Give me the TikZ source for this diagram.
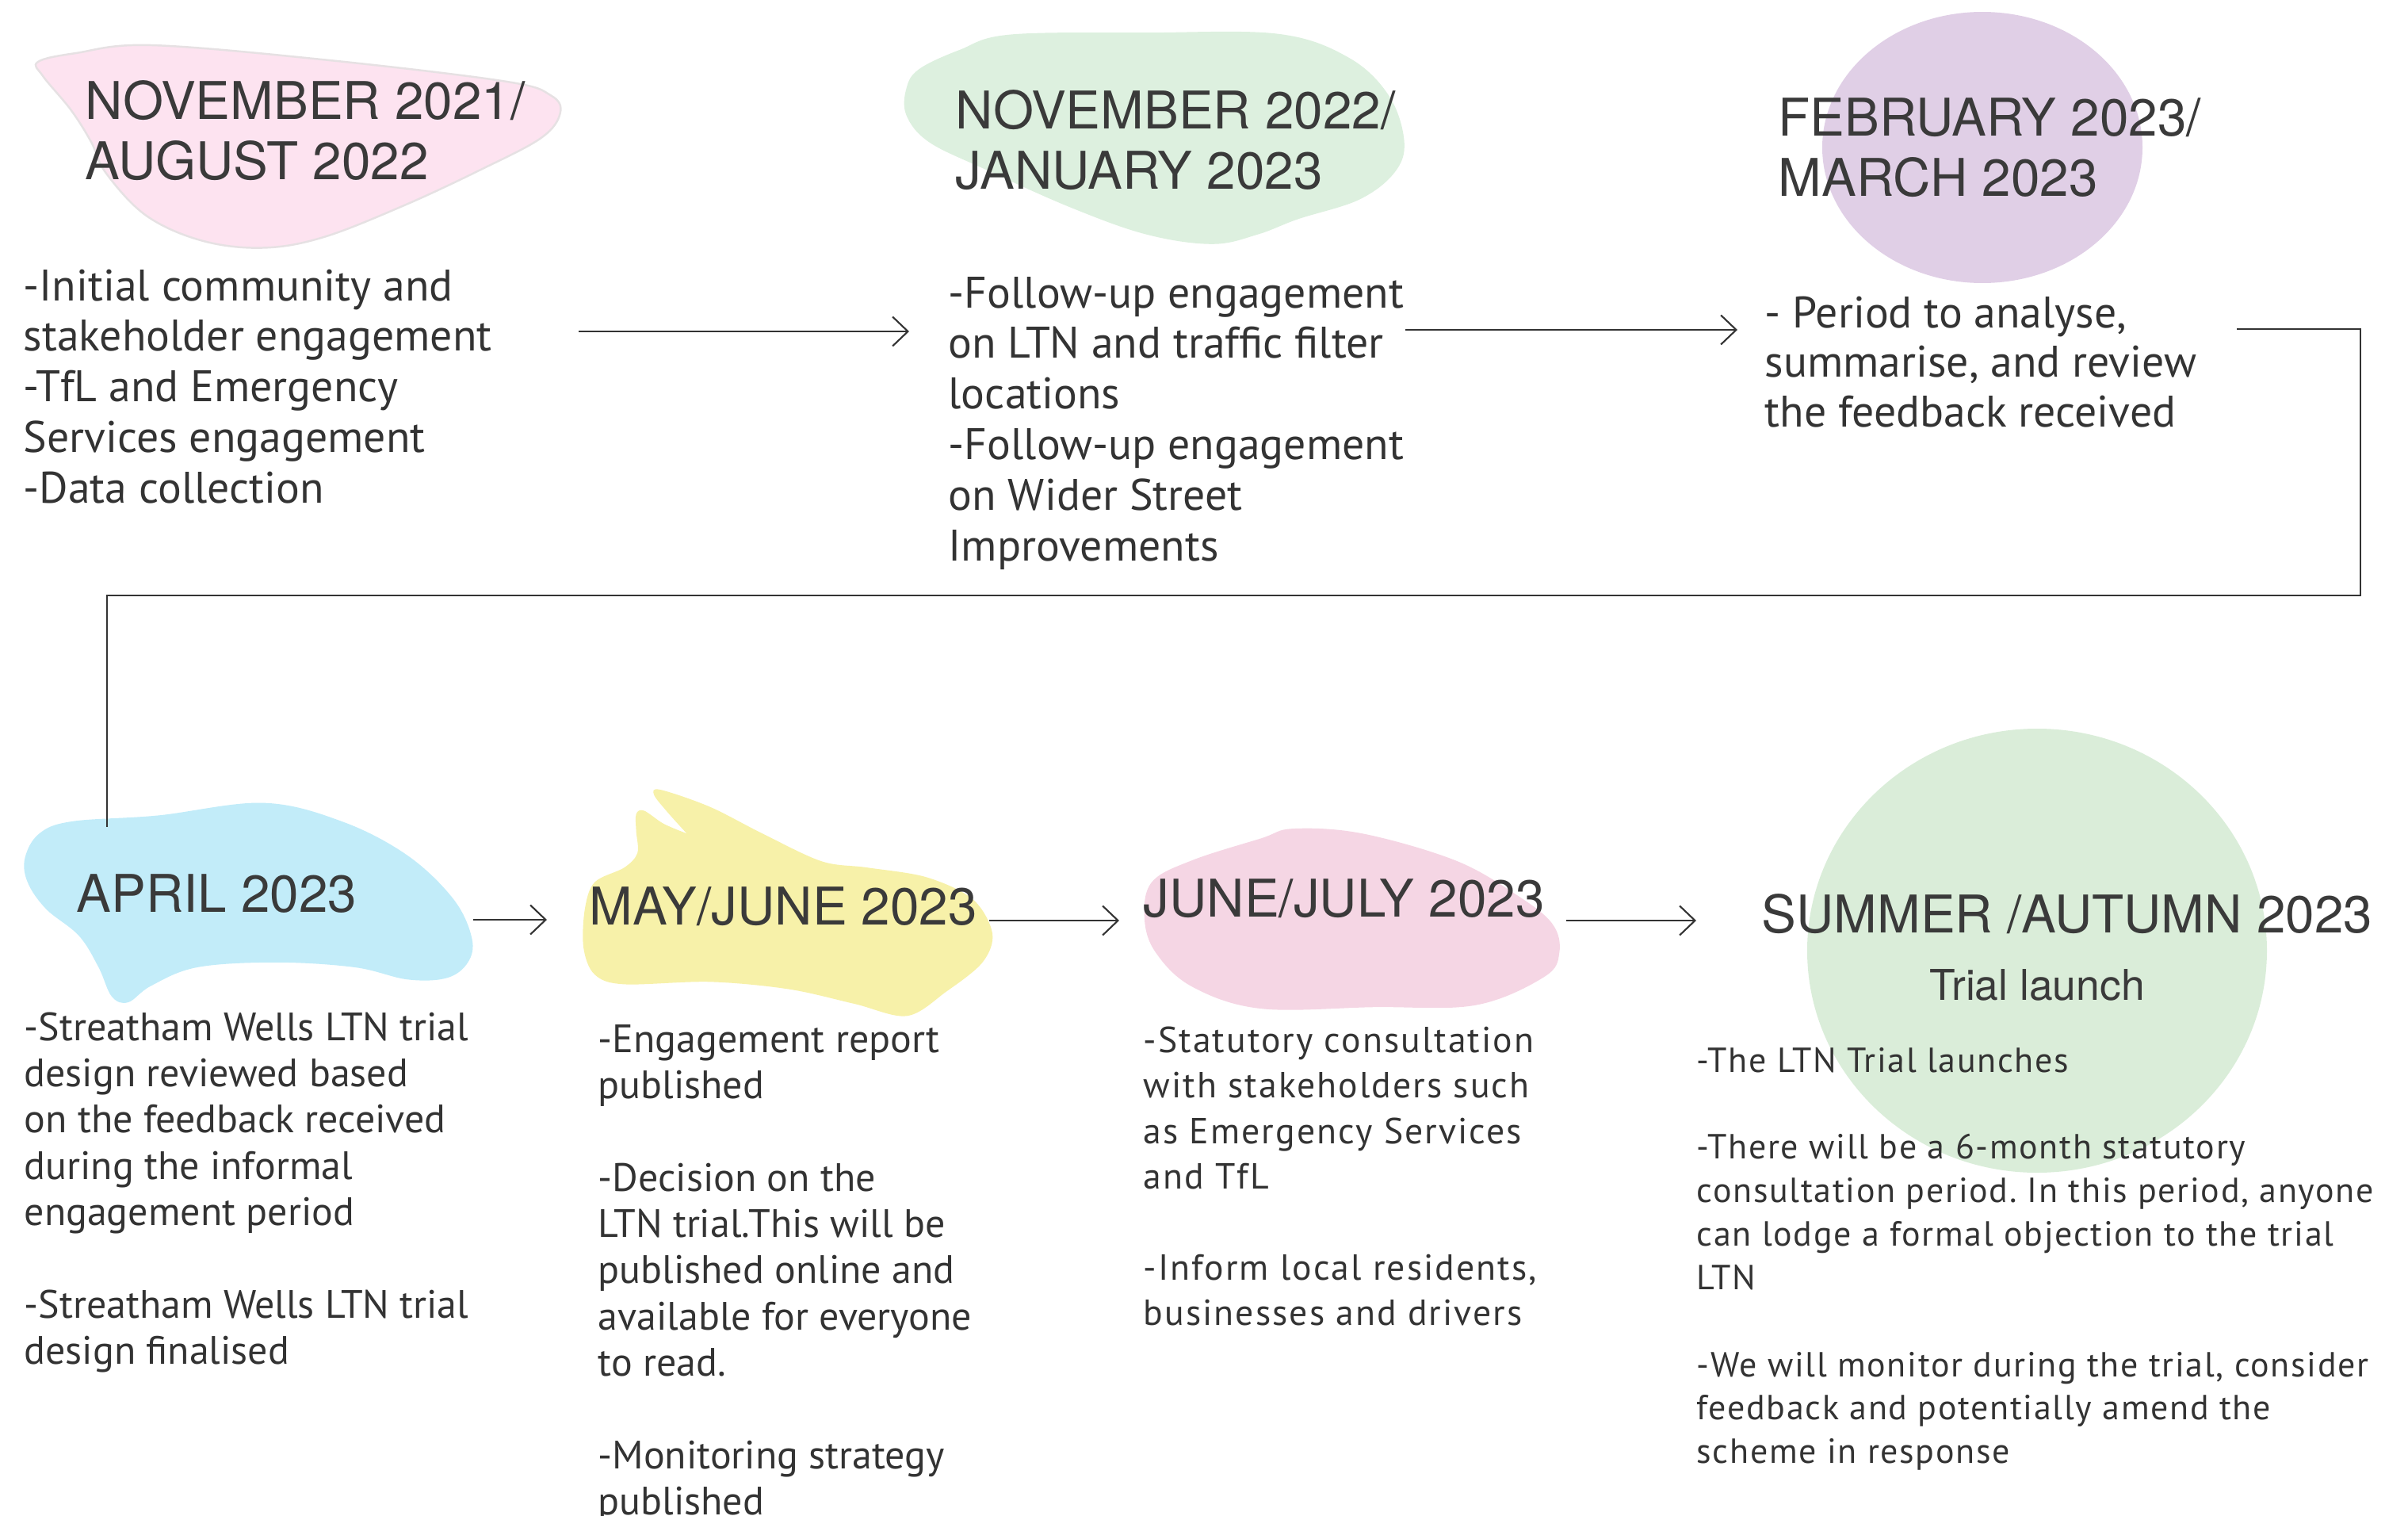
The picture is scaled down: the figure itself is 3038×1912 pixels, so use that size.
\documentclass[tikz,border=0pt]{standalone}
\usepackage{fontspec}
\setmainfont{PT Sans}
\newfontfamily\hfont{TeX Gyre Heros}
\newfontfamily\wfontA[LetterSpace=4.5]{PT Sans}
\newfontfamily\wfontB[LetterSpace=3.8]{PT Sans}
\usetikzlibrary{arrows.meta}
\definecolor{txt}{HTML}{333333}
\definecolor{htxt}{HTML}{3A3A3A}
\definecolor{cpinkA}{HTML}{FDE3F0}
\definecolor{cpinkAline}{HTML}{E6E1E3}
\definecolor{cgreenA}{HTML}{DDF0DF}
\definecolor{cpurple}{HTML}{E0CFE6}
\definecolor{cblue}{HTML}{C2ECF9}
\definecolor{cyellow}{HTML}{F7F1A9}
\definecolor{cpinkB}{HTML}{F5D6E4}
\definecolor{cgreenB}{HTML}{DAEDD9}
\newcommand\lns[1]{\parbox[t]{14cm}{\raggedright #1}}
\frenchspacing
\tikzset{
  hdr/.style={anchor=base west, inner sep=0pt, text=htxt, font=\hfont\fontsize{18.65}{21.7}\selectfont},
  bodyA/.style={anchor=base west, inner sep=0pt, text=txt, font=\fontsize{15.85}{18.15}\selectfont},
  bodyB/.style={anchor=base west, inner sep=0pt, text=txt, font=\fontsize{14.2}{16.6}\selectfont},
  bodyC/.style={anchor=base west, inner sep=0pt, text=txt, font=\wfontA\fontsize{13}{16.35}\selectfont},
  bodyD/.style={anchor=base west, inner sep=0pt, text=txt, font=\wfontB\fontsize{12.5}{15.6}\selectfont},
  conn/.style={draw=txt, line width=0.6pt},
  arr/.style={conn, -{Straight Barb[length=5.5pt, width=10.5pt, line width=0.6pt]}},
}
\begin{document}
\begin{tikzpicture}[x=0.01cm, y=-0.01cm]
\useasboundingbox (0,0) rectangle (3038,1912);

% ---------- blobs ----------
\filldraw[fill=cpinkA, draw=cpinkAline, line width=0.7pt] plot[smooth cycle, tension=0.6] coordinates {
 (47.8,78.1) (95.7,67) (191,57) (414.6,75.9) (637.8,102.7) (695.2,120.5) (706.7,142.8)
 (682.5,174.1) (605.9,214.3) (510.2,258.9) (408.2,299.1) (331.7,312.5) (255.1,303.6)
 (185,272.3) (134,218.7) (114.8,178.6) (89.3,138.4) (54.2,96)};

\fill[cgreenA] plot[smooth cycle, tension=0.6] coordinates {
 (1159.5,87.2) (1210.5,63) (1274.3,43.6) (1446.4,41.2) (1612.3,42.7) (1701.6,72.7)
 (1752.6,121.2) (1771.7,179.3) (1759,218.1) (1714.3,252) (1637.8,276.3) (1586.8,295.7)
 (1529.4,307.8) (1446.4,295.7) (1350.8,261.7) (1242.3,213.3) (1172.2,179.3)
 (1143.5,145.4) (1143.5,111.5)};

\fill[cpurple] (2501,186) ellipse [x radius=202, y radius=171];

\fill[cblue] plot[smooth cycle, tension=0.6] coordinates {
 (31.5,1081.9) (49.7,1051.2) (91.2,1035.9) (199,1028.5) (331.6,1012.6) (431.1,1035.9)
 (514,1078.8) (572.1,1134) (595.3,1183.1) (590.3,1213.8) (563.8,1233.4) (514,1235.3)
 (447.7,1220) (348.2,1213.8) (248.7,1220) (190.7,1243.3) (161.7,1264.1) (141,1256.8)
 (124.4,1220) (99.5,1180.1) (58,1146.3) (34.8,1112.6)};

\fill[cyellow] plot[smooth, tension=0.55] coordinates {
 (866.4,1051.2) (841.5,1023.6) (825,1002.1) (833.2,996) (895.4,1017.5) (961.8,1051.2)
 (1036.4,1086.2) (1094.4,1094.2) (1169,1106.4) (1227.1,1134) (1252,1177) (1239.5,1213.8)
 (1193.9,1250.6) (1144.2,1281.3) (1077.9,1266) (994.9,1247.5) (895.4,1238.3)
 (787.6,1241.4) (750.3,1229.1) (736.2,1195.4) (737.9,1146.3) (750.3,1112.6)
 (787.6,1094.2) (804.2,1075.8) (802.6,1048.2) (802.6,1026.7) (812.5,1022.4)
 (837.4,1039) (866.4,1051.2)} -- cycle;

\fill[cpinkB] plot[smooth cycle, tension=0.6] coordinates {
 (1631.6,1045.1) (1718.4,1051.2) (1835.7,1085) (1912.2,1127.9) (1958.2,1164.7)
 (1967.3,1201.5) (1948,1232.2) (1861.2,1267.8) (1733.7,1270.2) (1590.8,1272.1)
 (1504.1,1244.5) (1458.2,1201.5) (1443.9,1158.6) (1453.1,1112.6) (1504.1,1085)
 (1590.8,1057.4)};

\fill[cgreenB] (2570,1199) ellipse [x radius=290, y radius=280];

% ---------- headings ----------
\node[hdr] (h1) at (107,150) {\lns{NOVEMBER 2021/\\AUGUST 2022}};
\node[hdr] (h2) at (1205,162) {\lns{NOVEMBER 2022/\\JANUARY 2023}};
\node[hdr] (h3) at (2243,171) {\lns{FEBRUARY 2023/\\MARCH 2023}};
\node[hdr] (h4) at (96,1150) {APRIL 2023};
\node[hdr] (h5) at (743,1166) {MAY/JUNE 2023};
\node[hdr] (h6) at (1442,1156) {JUNE/JULY 2023};
\node[hdr] (h7) at (2222,1176) {SUMMER /AUTUMN 2023};
\node[anchor=base, inner sep=0pt, text=htxt, font=\hfont\fontsize{15.2}{17}\selectfont] (h7b) at (2570,1261) {Trial launch};

% ---------- body texts ----------
\node[bodyA] (b1) at (29,379) {\lns{-Initial community and\\stakeholder engagement\\-TfL and Emergency\\Services engagement\\-Data collection}};
\node[bodyA] (b2) at (1196,388) {\lns{-Follow-up engagement\\on LTN and traffic filter\\locations\\-Follow-up engagement\\on Wider Street\\Improvements}};
\node[bodyA, font=\fontsize{15.85}{17.8}\selectfont] (b3) at (2226,413) {\lns{- Period to analyse,\\summarise, and review\\the feedback received}};
\node[bodyB] (b4) at (30,1312) {\lns{-Streatham Wells LTN trial\\design reviewed based\\on the feedback received\\during the informal\\engagement period\\[\baselineskip]-Streatham Wells LTN trial\\design finalised}};
\node[bodyB] (b5) at (754,1327) {\lns{-Engagement report\\published\\[\baselineskip]-Decision on the\\LTN trial.This will be\\published online and\\available for everyone\\to read.\\[\baselineskip]-Monitoring strategy\\published}};
\node[bodyC] (b6) at (1442,1327) {\lns{-Statutory consultation\\with stakeholders such\\as Emergency Services\\and TfL\\[\baselineskip]-Inform local residents,\\businesses and drivers}};
\node[bodyD] (b7) at (2140,1352) {\lns{-The LTN Trial launches\\[\baselineskip]-There will be a 6-month statutory\\consultation period. In this period, anyone\\can lodge a formal objection to the trial\\LTN\\[\baselineskip]-We will monitor during the trial, consider\\feedback and potentially amend the\\scheme in response}};

% ---------- connectors ----------
\coordinate (a1s) at (730,418);
\coordinate (a1e) at (1147,418);
\coordinate (a2s) at (1773,416);
\coordinate (a2e) at (2192,416);
\coordinate (c0) at (2822,415);
\coordinate (c1) at (2978,415);
\coordinate (c2) at (2978,751);
\coordinate (c3) at (135,751);
\coordinate (c4) at (135,1043);
\coordinate (a3s) at (597,1160);
\coordinate (a3e) at (690,1160);
\coordinate (a4s) at (1248,1161);
\coordinate (a4e) at (1412,1161);
\coordinate (a5s) at (1976,1161);
\coordinate (a5e) at (2140,1161);

\draw[arr] (a1s) -- (a1e);
\draw[arr] (a2s) -- (a2e);
\draw[conn, line width=0.5pt] (c0) -- (c1) -- (c2) -- (c3) -- (c4);
\draw[arr] (a3s) -- (a3e);
\draw[arr] (a4s) -- (a4e);
\draw[arr] (a5s) -- (a5e);
\end{tikzpicture}
\end{document}
